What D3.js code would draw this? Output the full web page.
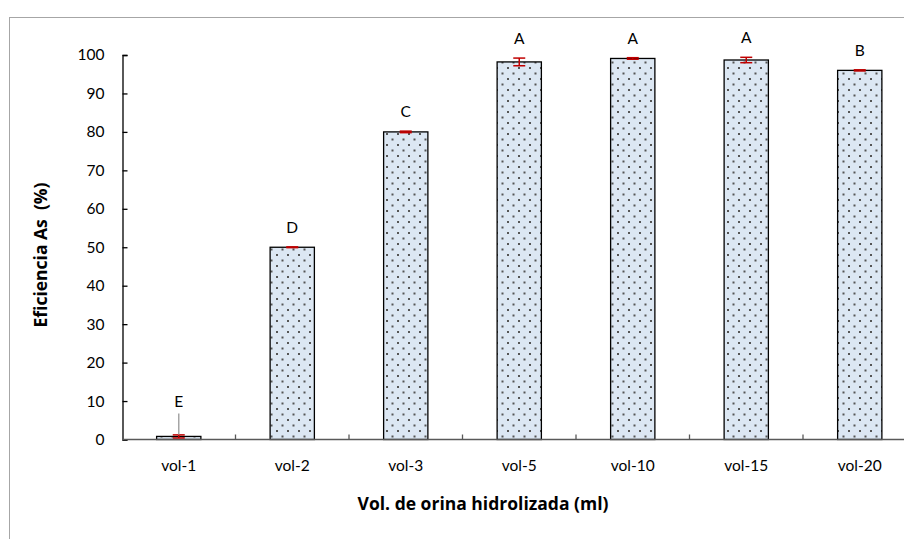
<!DOCTYPE html>
<html>
<head>
<meta charset="utf-8">
<script src="https://cdn.jsdelivr.net/npm/d3@7"></script>
<style>
  body { margin: 0; background: #fff; }
  svg { display: block; font-family: Lato, "Open Sans", sans-serif; }
</style>
</head>
<body>
<div id="chart"></div>
<script>
// chart values
const categories = ["vol-1", "vol-2", "vol-3", "vol-5", "vol-10", "vol-15", "vol-20"];
const efficiency = [0.8, 50, 80, 98.2, 99.1, 98.7, 96.0];
const errors = [0.4, 0.1, 0.2, 1.0, 0.2, 0.7, 0.15];
const groups = ["E", "D", "C", "A", "A", "A", "B"];
const yTicks = [0, 10, 20, 30, 40, 50, 60, 70, 80, 90, 100];

const width = 904, height = 539;

const svg = d3.select("#chart").append("svg")
  .attr("width", width)
  .attr("height", height);

// dotted fill like the excel pattern
const pat = svg.append("defs").append("pattern")
  .attr("id", "dots")
  .attr("patternUnits", "userSpaceOnUse")
  .attr("width", 11)
  .attr("height", 11);
pat.append("rect").attr("width", 11).attr("height", 11).attr("fill", "#dce7f3");
pat.append("rect").attr("x", 1).attr("y", 1).attr("width", 2).attr("height", 2).attr("fill", "#555");
pat.append("rect").attr("x", 6.5).attr("y", 6.5).attr("width", 2).attr("height", 2).attr("fill", "#555");

// outer chart border (cropped on the right / bottom)
svg.append("rect")
  .attr("x", 9.5).attr("y", 17.5)
  .attr("width", 1000).attr("height", 1000)
  .attr("fill", "none")
  .attr("stroke", "#a6a6a6");

const step = 113.5;
const x = d3.scaleBand()
  .domain(categories)
  .range([122, 122 + step * categories.length])
  .paddingInner(0.61)
  .paddingOuter(0.305);

const y = d3.scaleLinear()
  .domain([0, 100])
  .range([439.5, 55]);

// y axis (ticks inside)
const yAxis = svg.append("g")
  .attr("transform", "translate(122.5,0)")
  .call(d3.axisLeft(y).tickValues(yTicks).tickSize(-5).tickPadding(18));
yAxis.select(".domain").attr("stroke", "#000").attr("stroke-width", 1.3);
yAxis.selectAll(".tick line").attr("stroke", "#000").attr("stroke-width", 1.3);
yAxis.selectAll("text")
  .attr("font-size", "15.5px")
  .attr("fill", "#000")
  .attr("font-family", "Lato, sans-serif");

// bars
const bars = svg.append("g");
bars.selectAll("rect")
  .data(categories)
  .enter()
  .append("rect")
  .attr("x", d => x(d))
  .attr("y", (d, i) => y(efficiency[i]))
  .attr("width", x.bandwidth())
  .attr("height", (d, i) => y(0) - y(efficiency[i]))
  .attr("fill", "url(#dots)")
  .attr("stroke", "#000")
  .attr("stroke-width", 1.3);

// x axis line + separator ticks between categories
svg.append("line")
  .attr("x1", 122).attr("x2", 930)
  .attr("y1", y(0)).attr("y2", y(0))
  .attr("stroke", "#595959")
  .attr("stroke-width", 1.5);

const sepTicks = d3.range(1, categories.length).map(i => x.range()[0] + i * x.step());
svg.append("g").selectAll("line")
  .data(sepTicks)
  .enter()
  .append("line")
  .attr("x1", d => d).attr("x2", d => d)
  .attr("y1", y(0)).attr("y2", y(0) - 5)
  .attr("stroke", "#595959")
  .attr("stroke-width", 1.3);

svg.append("g").selectAll("text")
  .data(categories)
  .enter()
  .append("text")
  .attr("x", d => x(d) + x.bandwidth() / 2)
  .attr("y", 471)
  .attr("text-anchor", "middle")
  .attr("font-size", "15.5px")
  .attr("fill", "#000")
  .text(d => d);

// error bars
const eb = svg.append("g").attr("stroke", "#c00000").attr("stroke-width", 1.5);
categories.forEach((c, i) => {
  const cx = x(c) + x.bandwidth() / 2;
  const top = y(efficiency[i] + errors[i]);
  const bot = y(efficiency[i] - errors[i]);
  eb.append("line").attr("x1", cx).attr("x2", cx).attr("y1", top).attr("y2", bot);
  eb.append("line").attr("x1", cx - 6).attr("x2", cx + 6).attr("y1", top).attr("y2", top);
  eb.append("line").attr("x1", cx - 6).attr("x2", cx + 6).attr("y1", bot).attr("y2", bot);
});

// group letters; short bars get a leader line
const lbl = svg.append("g");
categories.forEach((c, i) => {
  const cx = x(c) + x.bandwidth() / 2;
  let ty = y(efficiency[i] + errors[i]) - 14;
  if (efficiency[i] < 5) {
    lbl.append("line")
      .attr("x1", cx).attr("x2", cx)
      .attr("y1", y(efficiency[i]) - 2).attr("y2", y(efficiency[i]) - 23)
      .attr("stroke", "#a5a5a5")
      .attr("stroke-width", 1.5);
    ty = y(efficiency[i]) - 29;
  }
  lbl.append("text")
    .attr("x", cx)
    .attr("y", ty)
    .attr("text-anchor", "middle")
    .attr("font-size", "15.5px")
    .attr("fill", "#000")
    .text(groups[i]);
});

// axis titles
svg.append("text")
  .attr("x", 483)
  .attr("y", 510)
  .attr("text-anchor", "middle")
  .attr("font-family", "'Open Sans', sans-serif")
  .attr("font-size", "17.5px")
  .attr("font-weight", "bold")
  .attr("fill", "#000")
  .text("Vol. de orina hidrolizada (ml)");

svg.append("text")
  .attr("transform", "translate(47,255) rotate(-90)")
  .attr("text-anchor", "middle")
  .attr("font-family", "'Open Sans', sans-serif")
  .attr("font-size", "17.5px")
  .attr("font-weight", "bold")
  .attr("fill", "#000")
  .attr("xml:space", "preserve")
  .style("white-space", "pre")
  .text("Eficiencia As  (%)");
</script>
</body>
</html>
